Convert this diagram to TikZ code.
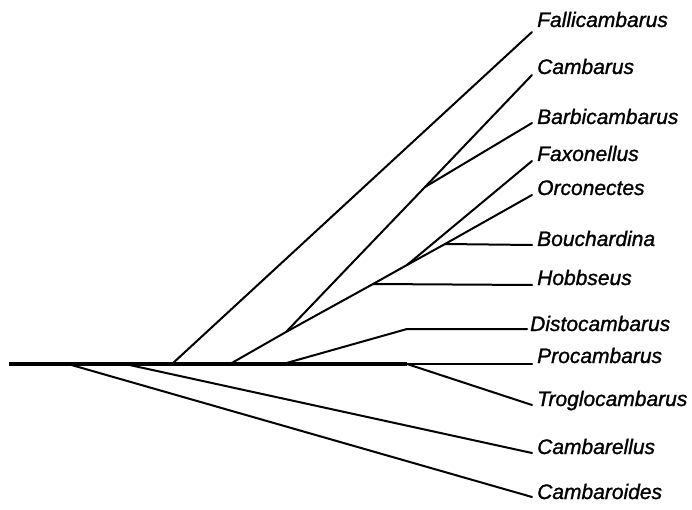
\documentclass[tikz,border=0pt]{standalone}
\usepackage{fontspec}
\setmainfont{Liberation Sans}
\newfontface\lblfont{Liberation Sans Italic}[FakeBold=1.2]
\tikzstyle{br}=[line width=2pt,line cap=round,line join=round]
\tikzstyle{trunk}=[line width=3.5pt]
\tikzstyle{tx}=[anchor=base west,inner sep=0pt,font=\fontsize{21}{25}\lblfont]

\begin{document}
\begin{tikzpicture}[x=1pt,y=-1pt]
\useasboundingbox (0,0) rectangle (692,510);
\coordinate (r) at (9,364); \coordinate (c1) at (68,364); \coordinate (c2) at (125,364); \coordinate (c3) at (172,364); \coordinate (c4) at (230,364); \coordinate (c5) at (283,364); \coordinate (c6) at (407,364);
\coordinate (a) at (286,332); \coordinate (b) at (425,187); \coordinate (h) at (373,284); \coordinate (n) at (407,265); \coordinate (o) at (445,244); \coordinate (d) at (407,329);
\coordinate (e1) at (532,32); \coordinate (e2) at (532,75); \coordinate (e3) at (532,123); \coordinate (e4) at (532,161); \coordinate (e5) at (532,195); \coordinate (e6) at (532,245); \coordinate (e7) at (532,285); \coordinate (e8) at (527,329); \coordinate (e9) at (532,364); \coordinate (e10) at (532,405); \coordinate (e11) at (532,453); \coordinate (e12) at (532,497);
\node[tx] (fal) at (537,27) {Fallicambarus}; \node[tx] (cam) at (537,74) {Cambarus}; \node[tx] (bar) at (537,124) {Barbicambarus}; \node[tx] (fax) at (537,161) {Faxonellus}; \node[tx] (orc) at (537,195) {Orconectes}; \node[tx] (bou) at (537,246) {Bouchardina}; \node[tx] (hob) at (537,285) {Hobbseus}; \node[tx] (dis) at (530,331) {Distocambarus}; \node[tx] (pro) at (537,363) {Procambarus}; \node[tx] (tro) at (537,406) {Troglocambarus}; \node[tx] (cae) at (537,454) {Cambarellus}; \node[tx] (cao) at (537,499) {Cambaroides};
\draw[trunk] (r) -- (c6); \draw[br] (c6) -- (e9);
\draw[br] (c3) -- (e1); \draw[br] (c4) -- (a) -- (b) -- (e2); \draw[br] (b) -- (e3);
\draw[br] (a) -- (h) -- (n) -- (e4); \draw[br] (n) -- (o) -- (e5); \draw[br] (o) -- (e6); \draw[br] (h) -- (e7);
\draw[br] (c5) -- (d) -- (e8); \draw[br] (c6) -- (e10); \draw[br] (c2) -- (e11); \draw[br] (c1) -- (e12);
\end{tikzpicture}
\end{document}
